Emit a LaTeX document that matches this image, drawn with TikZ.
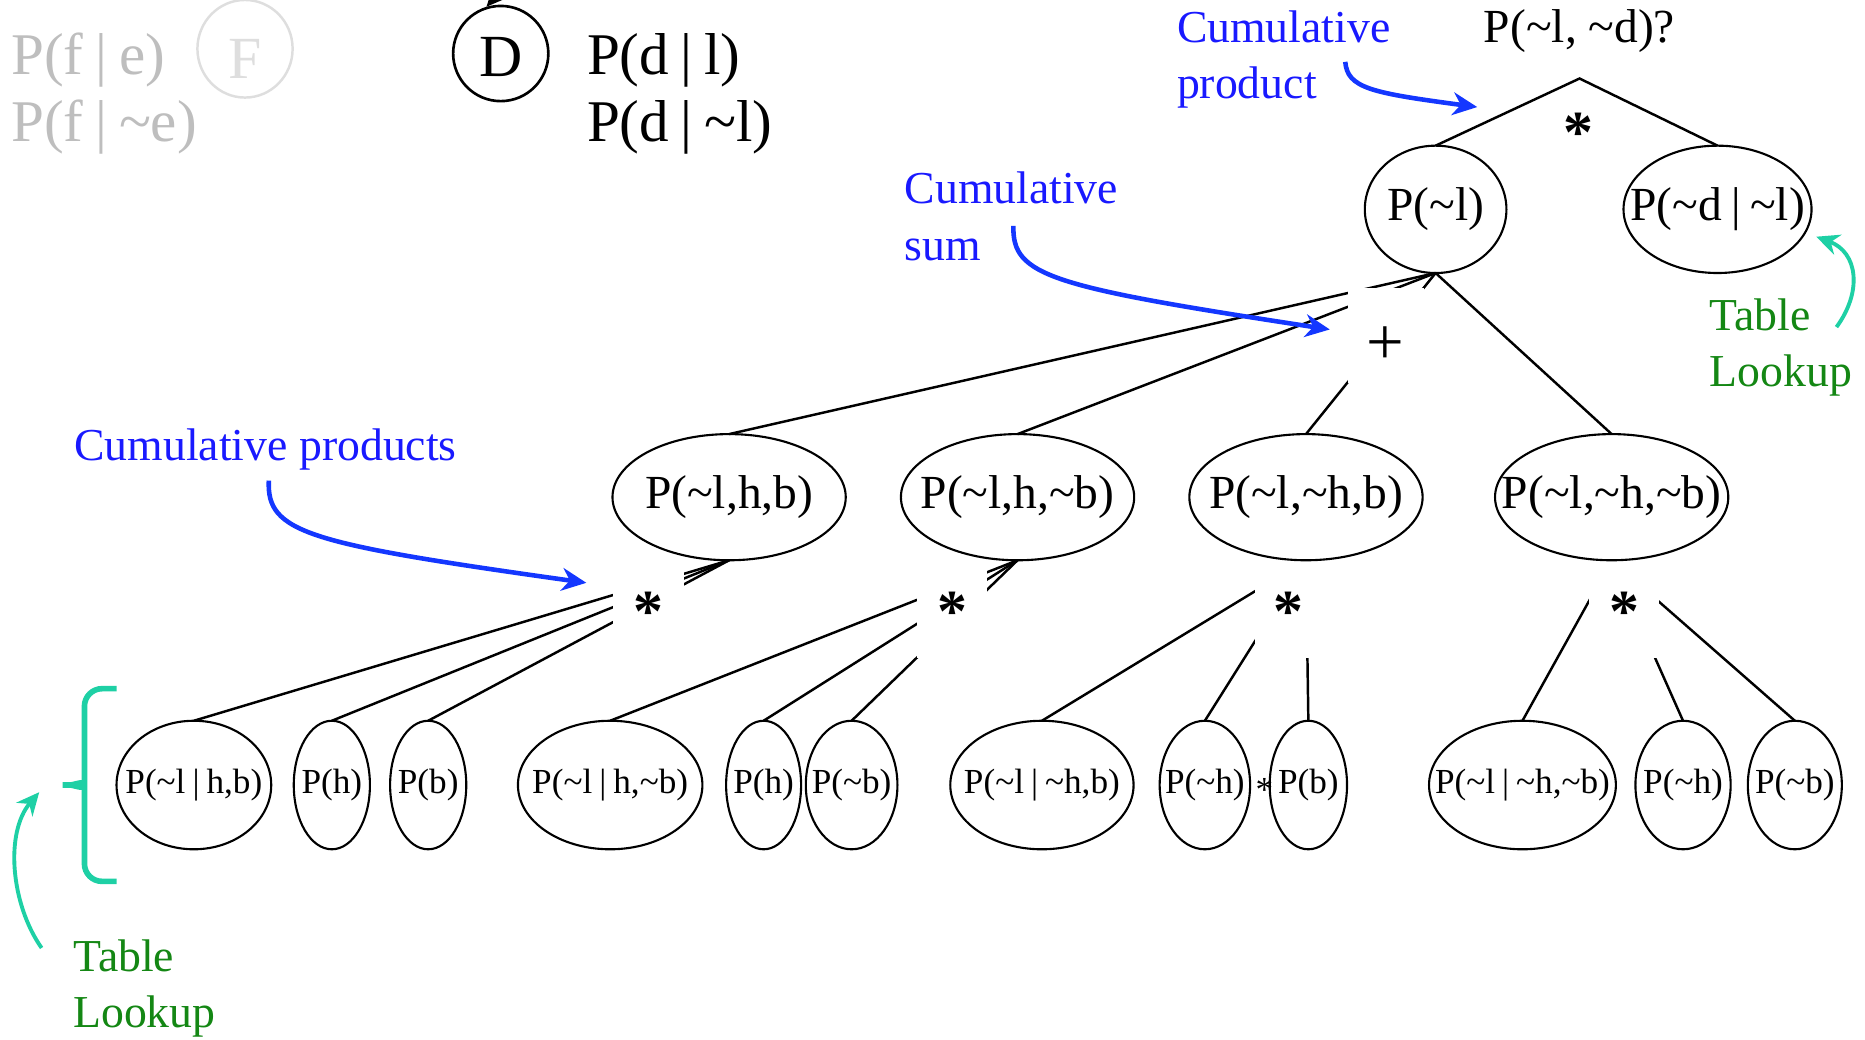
\documentclass[tikz,border=0pt]{standalone}
\usepackage{fontspec}
\setmainfont{Liberation Serif}
\usetikzlibrary{shapes.geometric,arrows.meta}
\pgfdeclarelayer{background}
\pgfsetlayers{background,main}
\newcommand\mytl{\textasciitilde}
\newcommand\mybar{\kern0.2em|\kern0.2em}
\definecolor{cblue}{RGB}{25,25,255}
\definecolor{ablue}{RGB}{20,55,255}
\definecolor{cgreen}{RGB}{20,135,20}
\definecolor{cteal}{RGB}{30,208,165}
\definecolor{lgray}{RGB}{190,190,190}
\definecolor{llgray}{RGB}{222,222,222}
\def\pxu{0.3384pt}
\begin{document}
\begin{tikzpicture}[x=0.011894cm, y=-0.011894cm,
  ell/.style={draw, ellipse, line width=0.6pt, inner sep=0pt, outer sep=0pt},
  mid/.style={ell, minimum width={196*\pxu}, minimum height={106*\pxu}, font=\fontsize{13.5}{16}\selectfont},
  bot/.style={ell, minimum height={108*\pxu}, font=\fontsize{10}{12}\selectfont},
  tline/.style={line width=0.7pt},
  opbox/.style={fill=white, inner sep=0pt, text depth=0pt},
  starbox/.style={opbox, font=\fontsize{17}{20}\selectfont\bfseries, text height=13.6pt, minimum height={84*\pxu}},
  starf/.style={font=\fontsize{17}{20}\selectfont\bfseries},
  note/.style={text=cblue, font=\fontsize{13}{16}\selectfont, anchor=base west, inner sep=0pt},
  tnote/.style={text=cgreen, font=\fontsize{13}{16}\selectfont, anchor=base west, inner sep=0pt},
  big/.style={font=\fontsize{16.8}{20}\selectfont, anchor=base west, inner sep=0pt},
  barrow/.style={draw=ablue, line width=1.3pt, -{Stealth[length=7pt,width=6.5pt]}},
  garrow/.style={draw=cteal, line width=1.1pt, -{Stealth[length=6.5pt,width=6pt]}},
]
\useasboundingbox (0,0) rectangle (1568,874);

% gray part
\node[big, text=lgray] (pfe) at (9,63) {P(f\mybar e)};
\node[big, text=lgray] (pfne) at (9,119) {P(f\mybar\mytl e)};
\node[draw=llgray, line width=0.7pt, ellipse, minimum width={80*\pxu}, minimum height={82*\pxu}, inner sep=0pt, text=llgray, font=\fontsize{17}{20}\selectfont, text height=17pt, text depth=0pt] (F) at (206,41) {F};
\coordinate (fin) at (207,-12);
\draw[draw=llgray, line width=0.7pt, -{Stealth[length=4pt,width=4pt]}] (fin) -- (F.north);

% D part
\node[draw, line width=0.75pt, circle, minimum size={80*\pxu}, inner sep=0pt, font=\fontsize{17}{20}\selectfont, text height=13.2pt, text depth=0pt] (D) at (421,45) {D};
\coordinate (din) at (440,-6);
\draw[line width=0.75pt, -{Stealth[length=5pt,width=4.5pt]}] (din) .. controls (428,-6) and (416,-2) .. (D.107);
\node[big] (pdl) at (493,63) {P(d\mybar l)};
\node[big] (pdnl) at (493,119) {P(d\mybar\mytl l)};

% top
\node[font=\fontsize{13.5}{16}\selectfont, anchor=base west, inner sep=0pt] (query) at (1247,36) {P(\mytl l, \mytl d)?};
\coordinate (apex) at (1328,66);
\node[ell, minimum width={119*\pxu}, minimum height={107*\pxu}, font=\fontsize{13.5}{16}\selectfont] (Pl) at (1207,176) {\makebox[0pt]{P(\mytl l)}};
\node[ell, minimum width={158*\pxu}, minimum height={107*\pxu}, font=\fontsize{13.5}{16}\selectfont] (Pdl) at (1444,176) {\makebox[0pt]{P(\mytl d\mybar\mytl l)}};
\node[starf, anchor=base, inner sep=0pt] (topstar) at (1327,128) {*};

% middle ellipses
\node[mid] (E1) at (613,418) {\makebox[0pt]{P(\mytl l,h,b)}};
\node[mid] (E2) at (855.5,418) {\makebox[0pt]{P(\mytl l,h,\mytl b)}};
\node[mid] (E3) at (1098,418) {\makebox[0pt]{P(\mytl l,\mytl h,b)}};
\node[mid] (E4) at (1355,418) {\makebox[0pt]{P(\mytl l,\mytl h,\mytl b)}};

% bottom ellipses
\node[bot, minimum width={130*\pxu}] (B1) at (163,660) {\makebox[0pt]{P(\mytl l\mybar h,b)}};
\node[bot, minimum width={64*\pxu}] (B2) at (279,660) {\makebox[0pt]{P(h)}};
\node[bot, minimum width={64*\pxu}] (B3) at (360,660) {\makebox[0pt]{P(b)}};
\node[bot, minimum width={155*\pxu}] (B4) at (513,660) {\makebox[0pt]{P(\mytl l\mybar h,\mytl b)}};
\node[bot, minimum width={63*\pxu}] (B5) at (642,660) {\makebox[0pt]{P(h)}};
\node[bot, minimum width={77*\pxu}] (B6) at (716,660) {\makebox[0pt]{P(\mytl b)}};
\node[bot, minimum width={154*\pxu}] (B7) at (876,660) {\makebox[0pt]{P(\mytl l\mybar\mytl h,b)}};
\node[bot, minimum width={76*\pxu}] (B8) at (1013,660) {\makebox[0pt]{P(\mytl h)}};
\node[bot, minimum width={65*\pxu}] (B9) at (1100,660) {\makebox[0pt]{P(b)}};
\node[bot, minimum width={157*\pxu}] (B10) at (1280,660) {\makebox[0pt]{P(\mytl l\mybar\mytl h,\mytl b)}};
\node[bot, minimum width={80*\pxu}] (B11) at (1415,660) {\makebox[0pt]{P(\mytl h)}};
\node[bot, minimum width={79*\pxu}] (B12) at (1509,660) {\makebox[0pt]{P(\mytl b)}};
\node[font=\fontsize{10}{12}\selectfont, anchor=base, inner sep=0pt] (mstar) at (1063,674) {*};

% tree lines and operator boxes, beneath the ellipses
\begin{pgfonlayer}{background}
\draw[tline] (Pl.north) -- (apex) -- (Pdl.north);
\foreach \e in {E1,E2,E3,E4} \draw[tline] (Pl.south) -- (\e.north);
\foreach \b in {B1,B2,B3} \draw[tline] (E1.south) -- (\b.north);
\foreach \b in {B4,B5,B6} \draw[tline] (E2.south) -- (\b.north);
\foreach \b in {B7,B8,B9} \draw[tline] (E3.south) -- (\b.north);
\foreach \b in {B10,B11,B12} \draw[tline] (E4.south) -- (\b.north);
\node[opbox, minimum width={64*\pxu}, minimum height={80*\pxu}, text height=16.5pt, font=\fontsize{19}{20}\selectfont] (plus) at (1165,282) {+};
\node[starbox, minimum width={60*\pxu}] (s1) at (545,511) {*};
\node[starbox, minimum width={59*\pxu}] (s2) at (800.5,511) {*};
\node[starbox, minimum width={57*\pxu}] (s3) at (1083.5,511) {*};
\node[starbox, minimum width={59*\pxu}] (s4) at (1365.5,511) {*};
\end{pgfonlayer}

% blue notes
\node[note] (cp1) at (989,36) {Cumulative};
\node[note] (cp2) at (989,83) {product};
\node[note] (cs1) at (760,171) {Cumulative};
\node[note] (cs2) at (760,219) {sum};
\node[note] (cps) at (62,387) {Cumulative products};
\coordinate (a1s) at (1131,52); \coordinate (a1e) at (1242,90);
\coordinate (a2s) at (852,190); \coordinate (a2e) at (1118,277);
\coordinate (a3s) at (226,404); \coordinate (a3e) at (493,490);
\draw[barrow] (a1s) .. controls (1133,74) and (1152,78) .. (a1e);
\draw[barrow] (a2s) .. controls (851,232) and (882,241) .. (a2e);
\draw[barrow] (a3s) .. controls (224,448) and (258,457) .. (a3e);

% green notes
\node[tnote] (tl1) at (1437,278) {Table};
\node[tnote] (tl2) at (1437,325) {Lookup};
\node[tnote] (tl3) at (61,817) {Table};
\node[tnote] (tl4) at (61,864) {Lookup};
\coordinate (g1s) at (1544,275); \coordinate (g1e) at (1527,199);
\coordinate (g2s) at (35,797); \coordinate (g2e) at (33,666);
\draw[garrow] (g1s) .. controls (1566,245) and (1562,212) .. (g1e);
\draw[garrow] (g2s) .. controls (9,760) and (4,700) .. (g2e);
\draw[cteal, line width=1.6pt, rounded corners=5pt] (98,579) -- (71,579) -- (71,645) .. controls (71,656) and (62,660) .. (44,660) .. controls (62,660) and (71,664) .. (71,675) -- (71,741) -- (98,741);
\end{tikzpicture}
\end{document}
